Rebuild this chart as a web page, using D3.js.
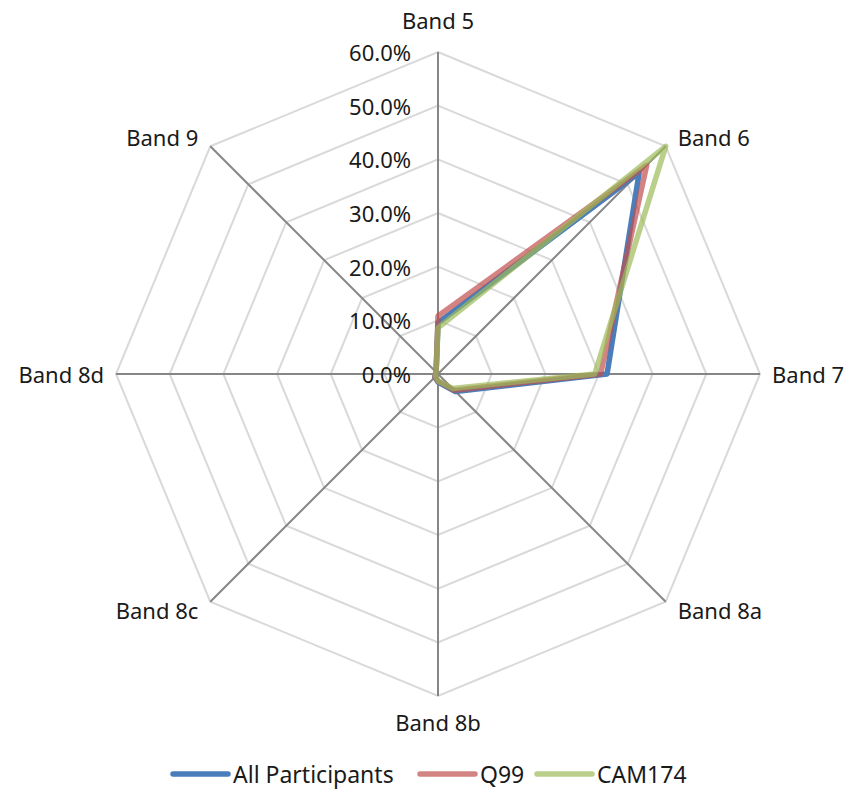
<!DOCTYPE html>
<html>
<head>
<meta charset="utf-8">
<script src="https://cdn.jsdelivr.net/npm/d3@7"></script>
<style>
  html, body { margin: 0; padding: 0; background: #fff; }
  svg text { font-family: "Noto Sans", "Open Sans", sans-serif; fill: #1a1a1a; }
</style>
</head>
<body>
<svg id="chart" width="850" height="790"></svg>
<script>
// Radar chart of band shares per group
const categories = ["Band 5", "Band 6", "Band 7", "Band 8a", "Band 8b", "Band 8c", "Band 8d", "Band 9"];
const tickValues = [0, 0.1, 0.2, 0.3, 0.4, 0.5, 0.6];
const seriesNames = ["All Participants", "Q99", "CAM174"];
const allParticipants = [0.095, 0.53, 0.315, 0.046, 0.015, 0.008, 0.005, 0.005];
const q99 = [0.108, 0.55, 0.303, 0.043, 0.013, 0.008, 0.005, 0.005];
const cam174 = [0.086, 0.60, 0.292, 0.038, 0.013, 0.006, 0.005, 0.005];
const seriesColors = ["#4a7ebb", "#c0504d", "#9bbb59"];
const seriesOpacity = [1, 0.7, 0.7];

const series = [allParticipants, q99, cam174].map((values, i) => ({
  name: seriesNames[i], values, color: seriesColors[i], opacity: seriesOpacity[i]
}));

const svg = d3.select("#chart");
const cx = 438, cy = 374, R = 322;

const r = d3.scaleLinear().domain([0, 0.6]).range([0, R]);
const angle = d3.scalePoint().domain(categories).range([0, 2 * Math.PI * (categories.length - 1) / categories.length]);
const pt = (cat, v) => {
  const a = angle(cat);
  return [cx + r(v) * Math.sin(a), cy - r(v) * Math.cos(a)];
};

const g = svg.append("g");

// Octagonal grid rings
tickValues.filter(t => t > 0).forEach(t => {
  g.append("path")
    .attr("d", d3.line()(categories.map(c => pt(c, t))) + "Z")
    .attr("fill", "none")
    .attr("stroke", "#d9d9d9")
    .attr("stroke-width", 2);
});

// Spokes
categories.forEach(c => {
  const [x, y] = pt(c, 0.6);
  g.append("line")
    .attr("x1", cx).attr("y1", cy).attr("x2", x).attr("y2", y)
    .attr("stroke", "#868686")
    .attr("stroke-width", 2);
});

// Radial tick labels
const fmt = d3.format(".1%");
tickValues.forEach(t => {
  g.append("text")
    .attr("x", cx - 27)
    .attr("y", cy - r(t))
    .attr("text-anchor", "end")
    .attr("dominant-baseline", "central")
    .attr("font-size", 22)
    .text(fmt(t));
});

// Category labels
categories.forEach(c => {
  const a = angle(c);
  const sx = Math.sin(a), sy = -Math.cos(a);
  const [x, y] = pt(c, 0.6);
  let anchor = "middle", dx = 0, dy = 0;
  if (sx > 0.01) { anchor = "start"; dx = 12; }
  else if (sx < -0.01) { anchor = "end"; dx = -12; }
  if (Math.abs(sx) < 0.01) dy = sy < 0 ? -32 : 26;
  else if (Math.abs(sy) > 0.01) dy = sy < 0 ? -9 : 8;
  g.append("text")
    .attr("x", x + dx)
    .attr("y", y + dy)
    .attr("text-anchor", anchor)
    .attr("dominant-baseline", "central")
    .attr("font-size", 22)
    .text(c);
});

// Series polygons
const line = d3.line();
series.forEach(s => {
  g.append("path")
    .attr("d", line(categories.map((c, i) => pt(c, s.values[i]))) + "Z")
    .attr("fill", "none")
    .attr("stroke", s.color)
    .attr("stroke-opacity", s.opacity)
    .attr("stroke-width", 5.5)
    .attr("stroke-linejoin", "round");
});

// Legend
const legendX = [173, 420, 537];
const legend = svg.append("g");
series.forEach((s, i) => {
  const lx = legendX[i], ly = 774;
  legend.append("line")
    .attr("x1", lx).attr("x2", lx + 55).attr("y1", ly).attr("y2", ly)
    .attr("stroke", s.color)
    .attr("stroke-opacity", s.opacity)
    .attr("stroke-width", 5.5)
    .attr("stroke-linecap", "round");
  legend.append("text")
    .attr("x", lx + 60)
    .attr("y", ly)
    .attr("dominant-baseline", "central")
    .attr("font-size", 23)
    .text(s.name);
});
</script>
</body>
</html>
